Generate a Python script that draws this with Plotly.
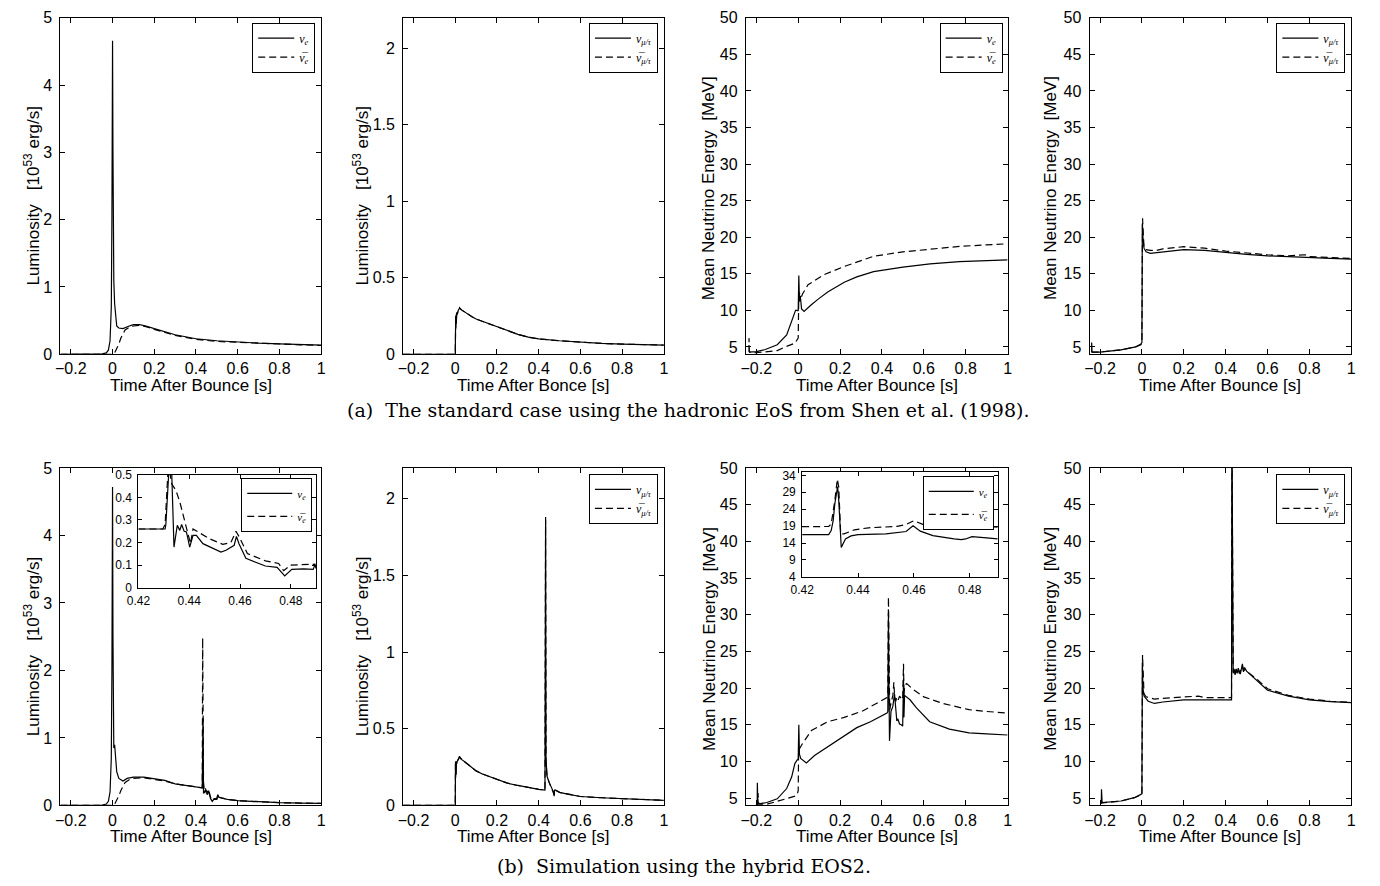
import plotly.graph_objects as go

W, H = 1380, 886

# ---------------- data: (a) Shen et al. (1998) hadronic EoS ----------------
t_lum_nue_a = [-0.25, -0.1, -0.05, -0.03, -0.02, -0.012, -0.006, -0.003, 0.0, 0.002, 0.004, 0.006, 0.01, 0.015,
               0.02, 0.03, 0.05, 0.08, 0.1, 0.13, 0.16, 0.2, 0.25, 0.3, 0.35, 0.4, 0.5, 0.6, 0.7, 0.8, 0.9, 1.0]
lum_nue_a = [0, 0, 0.005, 0.02, 0.06, 0.2, 0.7, 2.0, 4.66, 3.0, 1.6, 1.1, 0.75, 0.5,
             0.42, 0.39, 0.38, 0.42, 0.44, 0.44, 0.42, 0.38, 0.33, 0.29, 0.26, 0.23, 0.2, 0.18, 0.165, 0.155, 0.145, 0.135]
t_lum_anue_a = [-0.25, 0.0, 0.01, 0.02, 0.03, 0.04, 0.05, 0.06, 0.08, 0.1, 0.13, 0.16, 0.2, 0.25, 0.3, 0.35, 0.4,
                0.5, 0.6, 0.7, 0.8, 0.9, 1.0]
lum_anue_a = [0, 0, 0.02, 0.08, 0.15, 0.24, 0.31, 0.36, 0.4, 0.42, 0.43, 0.41, 0.37, 0.32, 0.28, 0.25, 0.22,
              0.19, 0.175, 0.16, 0.15, 0.14, 0.13]

t_lum_mu_a = [-0.25, -0.001, 0.0, 0.002, 0.003, 0.004, 0.005, 0.007, 0.01, 0.015, 0.02, 0.03, 0.05, 0.08, 0.1,
              0.13, 0.15, 0.2, 0.25, 0.3, 0.35, 0.4, 0.5, 0.6, 0.7, 0.8, 0.9, 1.0]
lum_numu_a = [0, 0, 0.0, 0.25, 0.17, 0.26, 0.2, 0.27, 0.26, 0.29, 0.3, 0.29, 0.27, 0.245, 0.23,
              0.215, 0.205, 0.175, 0.15, 0.13, 0.112, 0.1, 0.088, 0.078, 0.071, 0.066, 0.062, 0.06]
lum_anumu_a = [0, 0, 0.0, 0.24, 0.2, 0.25, 0.22, 0.27, 0.27, 0.29, 0.305, 0.29, 0.27, 0.245, 0.23,
               0.215, 0.205, 0.175, 0.15, 0.13, 0.112, 0.1, 0.088, 0.078, 0.071, 0.066, 0.062, 0.06]

t_en_nue_a = [-0.235, -0.2, -0.157, -0.1, -0.055, -0.031, -0.0125, -0.003, 0.0, 0.003, 0.006, 0.01, 0.016,
              0.028, 0.039, 0.06, 0.094, 0.141, 0.22, 0.28, 0.36, 0.5, 0.63, 0.77, 1.0]
en_nue_a = [4.3, 4.35, 4.65, 5.3, 6.65, 8.4, 10.0, 10.0, 9.9, 14.75, 11.2, 12.0, 10.2,
            9.85, 10.1, 10.7, 11.5, 12.5, 13.85, 14.57, 15.3, 15.9, 16.35, 16.66, 16.9]
t_en_anue_a = [-0.235, -0.235, -0.233, -0.2, -0.15, -0.1, -0.063, -0.016, 0.0, 0.001, 0.003, 0.01, 0.015,
               0.02, 0.047, 0.125, 0.22, 0.36, 0.5, 0.63, 0.77, 1.0]
en_anue_a = [4.3, 6.2, 4.3, 4.2, 4.3, 4.5, 5.0, 5.5, 6.2, 11.5, 12.4, 12.2, 11.8,
             12.2, 13.5, 14.9, 16.0, 17.4, 18.0, 18.35, 18.75, 19.1]

t_en_numu_a = [-0.24, -0.24, -0.238, -0.2, -0.1, -0.03, -0.005, 0.0, 0.002, 0.005, 0.01, 0.02, 0.04, 0.07,
               0.1, 0.2, 0.3, 0.4, 0.5, 0.6, 0.7, 0.8, 0.9, 1.0]
en_numu_a = [4.3, 5.6, 4.3, 4.3, 4.6, 5.0, 5.4, 5.6, 21.8, 20.0, 18.5, 18.0, 17.8, 17.9,
             18.05, 18.3, 18.2, 17.9, 17.65, 17.45, 17.3, 17.2, 17.1, 17.0]
t_en_anumu_a = [-0.24, -0.2, -0.1, -0.03, -0.005, 0.0, 0.003, 0.006, 0.01, 0.02, 0.04, 0.07, 0.1, 0.2,
                0.3, 0.4, 0.5, 0.6, 0.7, 0.78, 0.8, 0.9, 1.0]
en_anumu_a = [4.3, 4.3, 4.6, 5.0, 5.3, 5.5, 22.6, 20.5, 18.6, 18.3, 18.2, 18.2, 18.4, 18.7,
              18.5, 18.1, 17.8, 17.6, 17.45, 17.6, 17.35, 17.2, 17.1]

# ---------------- data: (b) hybrid EOS2 ----------------
t_lum_nue_b = [-0.25, -0.1, -0.05, -0.03, -0.02, -0.012, -0.006, -0.003, 0.0, 0.002, 0.004, 0.006, 0.01, 0.015,
               0.02, 0.03, 0.05, 0.07, 0.1, 0.15, 0.2, 0.25, 0.3, 0.35, 0.4, 0.43, 0.434, 0.436, 0.44, 0.445,
               0.45, 0.455, 0.46, 0.465, 0.47, 0.478, 0.485, 0.5, 0.505, 0.51, 0.52, 0.55, 0.6, 0.7, 0.8, 0.9, 1.0]
lum_nue_b = [0, 0, 0.005, 0.02, 0.06, 0.2, 0.7, 2.0, 4.72, 2.5, 1.0, 0.85, 0.9, 0.6,
             0.5, 0.4, 0.36, 0.4, 0.42, 0.42, 0.4, 0.37, 0.32, 0.3, 0.28, 0.26, 1.3, 0.18, 0.19, 0.23,
             0.18, 0.16, 0.22, 0.13, 0.1, 0.06, 0.09, 0.09, 0.16, 0.12, 0.11, 0.09, 0.07, 0.05, 0.04, 0.035, 0.03]
t_lum_anue_b = [-0.25, 0.0, 0.01, 0.02, 0.03, 0.04, 0.05, 0.06, 0.08, 0.1, 0.15, 0.2, 0.25, 0.3, 0.35, 0.4,
                0.43, 0.432, 0.434, 0.436, 0.44, 0.445, 0.45, 0.455, 0.46, 0.465, 0.47, 0.478, 0.485, 0.5,
                0.505, 0.51, 0.52, 0.55, 0.6, 0.7, 0.8, 0.9, 1.0]
lum_anue_b = [0, 0, 0.02, 0.07, 0.14, 0.22, 0.29, 0.34, 0.38, 0.4, 0.41, 0.39, 0.36, 0.32, 0.3, 0.28,
              0.26, 2.48, 0.45, 0.35, 0.22, 0.25, 0.21, 0.19, 0.24, 0.15, 0.12, 0.08, 0.1, 0.1,
              0.17, 0.12, 0.11, 0.09, 0.07, 0.05, 0.04, 0.035, 0.03]

# zoomed view of the ν_e luminosity around the second burst
t_zlum_nue = [0.42, 0.4305, 0.4308, 0.4318, 0.4324, 0.433, 0.4335, 0.434, 0.4353, 0.4363, 0.437, 0.438, 0.4389,
              0.4402, 0.4415, 0.4428, 0.4454, 0.4525, 0.4545, 0.4577, 0.4586, 0.4596, 0.4623, 0.47, 0.4746,
              0.4776, 0.4804, 0.485, 0.4888, 0.4895, 0.49]
zlum_nue = [0.26, 0.26, 0.28, 0.44, 0.6, 0.55, 0.37, 0.18, 0.276, 0.254, 0.28, 0.25, 0.247,
            0.18, 0.232, 0.232, 0.195, 0.158, 0.166, 0.188, 0.227, 0.195, 0.13, 0.096, 0.09,
            0.052, 0.081, 0.083, 0.081, 0.1, 0.085]
t_zlum_anue = [0.42, 0.4296, 0.4305, 0.4313, 0.4318, 0.4331, 0.4348, 0.4363, 0.4376, 0.4382, 0.4395, 0.4405,
               0.4415, 0.4441, 0.448, 0.4532, 0.4564, 0.4584, 0.4597, 0.4629, 0.47, 0.4752, 0.4772, 0.4798,
               0.4856, 0.4895, 0.49]
zlum_anue = [0.26, 0.26, 0.28, 0.43, 0.55, 0.46, 0.43, 0.38, 0.32, 0.3, 0.24, 0.195,
             0.26, 0.242, 0.217, 0.192, 0.2, 0.25, 0.225, 0.151, 0.119, 0.107, 0.075, 0.1,
             0.104, 0.104, 0.09]

t_lum_mu_b = [-0.25, 0.0, 0.001, 0.002, 0.003, 0.004, 0.005, 0.007, 0.01, 0.015, 0.02, 0.03, 0.05, 0.08, 0.1,
              0.13, 0.15, 0.2, 0.25, 0.3, 0.35, 0.4, 0.43, 0.433, 0.435, 0.437, 0.44, 0.45, 0.46, 0.47,
              0.474, 0.476, 0.48, 0.5, 0.55, 0.6, 0.7, 0.8, 0.9, 1.0]
lum_numu_b = [0, 0, 0.28, 0.18, 0.29, 0.2, 0.28, 0.27, 0.29, 0.3, 0.32, 0.3, 0.28, 0.25, 0.225,
              0.205, 0.195, 0.165, 0.145, 0.13, 0.115, 0.105, 0.1, 1.88, 0.3, 0.2, 0.19, 0.15, 0.12, 0.09,
              0.06, 0.1, 0.1, 0.085, 0.07, 0.058, 0.05, 0.043, 0.038, 0.033]
lum_anumu_b = [0, 0, 0.27, 0.2, 0.28, 0.21, 0.28, 0.27, 0.29, 0.3, 0.315, 0.3, 0.28, 0.25, 0.225,
               0.205, 0.195, 0.165, 0.145, 0.13, 0.115, 0.105, 0.1, 1.86, 0.28, 0.21, 0.19, 0.15, 0.12, 0.09,
               0.07, 0.1, 0.1, 0.085, 0.07, 0.058, 0.05, 0.043, 0.038, 0.033]

t_en_nue_b = [-0.2, -0.196, -0.195, -0.193, -0.18, -0.15, -0.1, -0.055, -0.031, -0.016, -0.005, 0.0, 0.003,
              0.006, 0.012, 0.02, 0.039, 0.078, 0.141, 0.22, 0.28, 0.345, 0.424, 0.428, 0.431, 0.433, 0.436,
              0.443, 0.452, 0.46, 0.466, 0.471, 0.476, 0.484, 0.492, 0.499, 0.503, 0.505, 0.508, 0.518,
              0.534, 0.565, 0.628, 0.722, 0.816, 0.9, 1.0]
en_nue_b = [4.1, 4.1, 7.1, 4.3, 4.25, 4.4, 4.9, 6.3, 7.9, 9.7, 10.2, 10.3, 15.0,
            11.0, 10.4, 10.2, 9.8, 10.8, 12.0, 13.5, 14.6, 15.4, 16.6, 16.8, 30.2, 22.0, 12.8,
            16.8, 17.5, 19.2, 17.0, 15.5, 15.8, 15.1, 15.0, 14.8, 21.3, 16.0, 19.0, 18.8,
            18.4, 17.3, 15.4, 14.4, 13.9, 13.75, 13.6]
t_en_anue_b = [-0.2, -0.193, -0.192, -0.19, -0.15, -0.1, -0.05, -0.01, -0.003, 0.0, 0.002, 0.01, 0.02,
               0.063, 0.14, 0.22, 0.31, 0.424, 0.428, 0.431, 0.434, 0.437, 0.443, 0.452, 0.457, 0.46,
               0.466, 0.471, 0.478, 0.484, 0.492, 0.499, 0.503, 0.505, 0.509, 0.518, 0.55, 0.6, 0.69,
               0.816, 0.9, 1.0]
en_anue_b = [4.1, 4.1, 5.7, 4.2, 4.15, 4.55, 5.0, 5.3, 5.7, 6.0, 11.5, 12.0, 12.4,
             14.2, 15.4, 16.0, 16.9, 18.7, 18.9, 32.4, 20.0, 17.0, 17.9, 19.0, 20.8, 19.0,
             18.2, 18.8, 18.4, 18.9, 18.6, 18.4, 23.3, 19.0, 20.4, 20.6, 19.8, 18.8, 17.9,
             17.05, 16.8, 16.6]

# zoomed view of the ν_e mean energy around the second burst
t_zen_nue = [0.42, 0.4295, 0.4304, 0.4311, 0.4317, 0.4322, 0.4327, 0.4331, 0.4336, 0.434, 0.4355, 0.4375,
             0.44, 0.45, 0.4572, 0.4597, 0.4623, 0.4668, 0.4744, 0.477, 0.4785, 0.4808, 0.485, 0.49]
zen_nue = [16.5, 16.5, 17.7, 20.6, 25.6, 29.0, 30.7, 26.6, 15.7, 12.7, 15.2, 16.1,
           16.5, 16.7, 17.4, 19.1, 17.5, 16.2, 15.2, 15.0, 15.2, 15.9, 15.6, 15.2]
t_zen_anue = [0.42, 0.4295, 0.4304, 0.4311, 0.4317, 0.4326, 0.4331, 0.4338, 0.435, 0.4387, 0.4438, 0.454,
              0.4572, 0.46, 0.4632, 0.468, 0.4744, 0.48, 0.485, 0.49]
zen_anue = [18.8, 18.9, 19.6, 23.1, 26.6, 32.9, 30.5, 16.7, 16.7, 17.9, 18.5, 18.9,
            19.5, 20.6, 19.5, 18.7, 18.2, 19.1, 18.8, 18.7]

t_en_numu_b = [-0.2, -0.194, -0.193, -0.19, -0.1, -0.036, -0.005, 0.0, 0.002, 0.005, 0.01, 0.03, 0.06, 0.1,
               0.2, 0.3, 0.4, 0.428, 0.43, 0.432, 0.436, 0.44, 0.445, 0.45, 0.455, 0.46, 0.465, 0.47,
               0.475, 0.48, 0.485, 0.49, 0.5, 0.55, 0.6, 0.7, 0.8, 0.9, 1.0]
en_numu_b = [4.3, 4.3, 6.2, 4.38, 4.6, 5.05, 5.5, 5.6, 23.5, 20.0, 18.9, 18.2, 17.9, 18.1,
             18.4, 18.4, 18.4, 18.4, 55.0, 30.0, 22.2, 22.6, 21.8, 22.5, 22.0, 22.7, 22.1, 21.9,
             22.6, 23.3, 22.2, 22.8, 22.3, 21.0, 19.7, 18.9, 18.4, 18.15, 18.0]
t_en_anumu_b = [-0.2, -0.1, -0.036, -0.005, 0.0, 0.003, 0.006, 0.01, 0.02, 0.06, 0.1, 0.2, 0.27, 0.3, 0.4,
                0.428, 0.43, 0.432, 0.436, 0.44, 0.445, 0.45, 0.455, 0.46, 0.465, 0.47, 0.475, 0.48,
                0.485, 0.49, 0.5, 0.55, 0.6, 0.7, 0.8, 0.9, 1.0]
en_anumu_b = [4.3, 4.6, 5.05, 5.4, 5.5, 24.5, 20.5, 19.2, 18.8, 18.5, 18.6, 18.8, 18.9, 18.7, 18.7,
              18.7, 55.0, 30.0, 22.0, 22.4, 22.0, 22.6, 22.2, 22.5, 22.0, 22.3, 22.8, 23.0,
              22.4, 22.5, 22.3, 21.2, 19.9, 19.0, 18.5, 18.2, 18.05]

# ---------------- ticks and labels ----------------
time_ticks = [-0.2, 0, 0.2, 0.4, 0.6, 0.8, 1]
time_labels = ["\u22120.2", "0", "0.2", "0.4", "0.6", "0.8", "1"]
lum_e_ticks = [0, 1, 2, 3, 4, 5]
lum_mu_ticks = [0, 0.5, 1, 1.5, 2]
lum_mu_labels = ["0", "0.5", "1", "1.5", "2"]
energy_ticks = [5, 10, 15, 20, 25, 30, 35, 40, 45, 50]
zoom_time_ticks = [0.42, 0.44, 0.46, 0.48]
zoom_time_labels = ["0.42", "0.44", "0.46", "0.48"]
zoom_lum_ticks = [0, 0.1, 0.2, 0.3, 0.4, 0.5]
zoom_lum_labels = ["0", "0.1", "0.2", "0.3", "0.4", "0.5"]
zoom_en_ticks = [4, 9, 14, 19, 24, 29, 34]

NU_E = "<i>\u03bd<sub>e</sub></i>"
ANU_E = "<i>\u03bd\u0305<sub>e</sub></i>"
NU_MU = "<i>\u03bd<sub>\u03bc/\u03c4</sub></i>"
ANU_MU = "<i>\u03bd\u0305<sub>\u03bc/\u03c4</sub></i>"
X_TITLE = "Time After Bounce [s]"
X_TITLE_MU = "Time After Bonce [s]"
Y_LUM = "Luminosity\u00a0\u00a0\u00a0[10<sup>53</sup>\u00a0erg/s]"
Y_EN = "Mean Neutrino Energy\u00a0\u00a0[MeV]"
CAPTION_A = "(a)\u00a0 The standard case using the hadronic EoS from Shen et al. (1998)."
CAPTION_B = "(b)\u00a0 Simulation using the hybrid EOS2."

# ---------------- layout geometry (pixels) ----------------
cols = [(49, 313), (396, 660), (743, 1008), (1091, 1356)]
rows = [(10, 353), (469, 813)]
inset_lum = ((128, 308), (476, 591))
inset_en = ((800, 998), (473, 580))

SANS = "Liberation Sans, Arial, sans-serif"
SERIF = "DejaVu Serif, serif"
LEG_FONT = "Liberation Serif, serif"
DASH = "7px,4px"
LW = 1.2
TICK_SIZE = 16
TITLE_SIZE = 17


def px_x(a, b):
    return [a / W, b / W]


def px_y(top, bot):
    return [1 - bot / H, 1 - top / H]


def axis(domain, rng, anchor, tickvals, ticktext=None, size=TICK_SIZE, ticklen=5, standoff=None):
    d = dict(domain=domain, range=rng, anchor=anchor, tickmode="array", tickvals=tickvals,
             ticks="inside", ticklen=ticklen, tickwidth=1, tickcolor="black",
             showline=True, linecolor="black", linewidth=1, mirror="ticks",
             showgrid=False, zeroline=False,
             tickfont=dict(family=SANS, size=size, color="black"))
    if ticktext is not None:
        d["ticktext"] = ticktext
    if standoff is not None:
        d["ticklabelstandoff"] = standoff
    return d


fig = go.Figure()
layout = dict(width=W, height=H, margin=dict(l=0, r=0, t=0, b=0),
              paper_bgcolor="white", plot_bgcolor="white", showlegend=True)

# panel index -> (column, row, y range, y ticks, y labels)
panels = {
    1: (0, 0, [0, 5], lum_e_ticks, None),
    2: (1, 0, [0, 2.2], lum_mu_ticks, lum_mu_labels),
    3: (2, 0, [4, 50], energy_ticks, None),
    4: (3, 0, [4, 50], energy_ticks, None),
    5: (0, 1, [0, 5], lum_e_ticks, None),
    6: (1, 1, [0, 2.2], lum_mu_ticks, lum_mu_labels),
    7: (2, 1, [4, 50], energy_ticks, None),
    8: (3, 1, [4, 50], energy_ticks, None),
}
for k, (c, r, yr, yt, yl) in panels.items():
    sfx = "" if k == 1 else str(k)
    layout["xaxis" + sfx] = axis(px_x(*cols[c]), [-0.25, 1], "y" + sfx, time_ticks, time_labels, standoff=0)
    layout["yaxis" + sfx] = axis(px_y(*rows[r]), yr, "x" + sfx, yt, yl, standoff=4)

# inset axes
layout["xaxis9"] = axis(px_x(*inset_lum[0]), [0.42, 0.49], "y9", zoom_time_ticks, zoom_time_labels,
                        size=12, ticklen=4, standoff=2)
layout["yaxis9"] = axis(px_y(*inset_lum[1]), [0, 0.5], "x9", zoom_lum_ticks, zoom_lum_labels,
                        size=12, ticklen=4, standoff=3)
layout["xaxis10"] = axis(px_x(*inset_en[0]), [0.42, 0.49], "y10", zoom_time_ticks, zoom_time_labels,
                         size=12, ticklen=4, standoff=2)
layout["yaxis10"] = axis(px_y(*inset_en[1]), [4, 35], "x10", zoom_en_ticks, None,
                         size=12, ticklen=4, standoff=3)


def legend_box(right, top, size=12, itemwidth=36, gap=0):
    return dict(x=right / W, y=1 - top / H, xanchor="right", yanchor="top", xref="paper", yref="paper",
                bgcolor="white", bordercolor="black", borderwidth=1, itemwidth=itemwidth,
                tracegroupgap=gap, font=dict(family=LEG_FONT, size=size, color="black"),
                itemclick=False, itemdoubleclick=False)


layout["legend"] = legend_box(307, 15)
layout["legend2"] = legend_box(654, 15)
layout["legend3"] = legend_box(1003, 15)
layout["legend4"] = legend_box(1350, 15)
layout["legend5"] = legend_box(304, 479, size=11, itemwidth=45, gap=4)
layout["legend6"] = legend_box(654, 475)
layout["legend7"] = legend_box(994, 477, size=11, itemwidth=45, gap=4)
layout["legend8"] = legend_box(1350, 475)


def curve(x, y, k, dash, name=None, legend=None, group=None):
    sfx = "" if k == 1 else str(k)
    fig.add_trace(go.Scatter(
        x=x, y=y, mode="lines", xaxis="x" + sfx, yaxis="y" + sfx,
        line=dict(color="black", width=LW, dash=dash),
        name=name or "", showlegend=legend is not None,
        legend=legend or "legend", legendgroup=group, hoverinfo="skip"))


# (a)
curve(t_lum_nue_a, lum_nue_a, 1, "solid", NU_E, "legend")
curve(t_lum_anue_a, lum_anue_a, 1, DASH, ANU_E, "legend")
curve(t_lum_mu_a, lum_numu_a, 2, "solid", NU_MU, "legend2")
curve(t_lum_mu_a, lum_anumu_a, 2, DASH, ANU_MU, "legend2")
curve(t_en_nue_a, en_nue_a, 3, "solid", NU_E, "legend3")
curve(t_en_anue_a, en_anue_a, 3, DASH, ANU_E, "legend3")
curve(t_en_numu_a, en_numu_a, 4, "solid", NU_MU, "legend4")
curve(t_en_anumu_a, en_anumu_a, 4, DASH, ANU_MU, "legend4")
# (b)
curve(t_lum_nue_b, lum_nue_b, 5, "solid")
curve(t_lum_anue_b, lum_anue_b, 5, DASH)
curve(t_zlum_nue, zlum_nue, 9, "solid", NU_E, "legend5", "a")
curve(t_zlum_anue, zlum_anue, 9, DASH, ANU_E, "legend5", "b")
curve(t_lum_mu_b, lum_numu_b, 6, "solid", NU_MU, "legend6")
curve(t_lum_mu_b, lum_anumu_b, 6, DASH, ANU_MU, "legend6")
curve(t_en_nue_b, en_nue_b, 7, "solid")
curve(t_en_anue_b, en_anue_b, 7, DASH)
curve(t_zen_nue, zen_nue, 10, "solid", NU_E, "legend7", "a")
curve(t_zen_anue, zen_anue, 10, DASH, ANU_E, "legend7", "b")
curve(t_en_numu_b, en_numu_b, 8, "solid", NU_MU, "legend8")
curve(t_en_anumu_b, en_anumu_b, 8, DASH, ANU_MU, "legend8")

# axis titles and captions
ann = []
ylab_x = [20, 353, 706, 1052]
ylab_text = [Y_LUM, Y_LUM, Y_EN, Y_EN]
ylab_shift = [10, 10, 2, 2]
for r, (top, bot) in enumerate(rows):
    for c, (l, rr) in enumerate(cols):
        ann.append(dict(x=ylab_x[c] / W, y=1 - ((top + bot) / 2 + ylab_shift[c]) / H, xref="paper", yref="paper",
                        text=ylab_text[c], textangle=-90, showarrow=False, xanchor="center", yanchor="middle",
                        font=dict(family=SANS, size=TITLE_SIZE, color="black")))
        ann.append(dict(x=(l + rr) / 2 / W, y=1 - (bot + 32) / H, xref="paper", yref="paper",
                        text=X_TITLE_MU if c == 1 else X_TITLE, showarrow=False,
                        xanchor="center", yanchor="middle",
                        font=dict(family=SANS, size=TITLE_SIZE, color="black")))
ann.append(dict(x=684 / W, y=1 - 410 / H, xref="paper", yref="paper", text=CAPTION_A, showarrow=False,
                xanchor="center", yanchor="middle", font=dict(family=SERIF, size=19, color="black")))
ann.append(dict(x=680 / W, y=1 - 875 / H, xref="paper", yref="paper", text=CAPTION_B, showarrow=False,
                xanchor="center", yanchor="middle", font=dict(family=SERIF, size=19, color="black")))
layout["annotations"] = ann

fig.update_layout(**layout)
fig.write_html("out.html")
